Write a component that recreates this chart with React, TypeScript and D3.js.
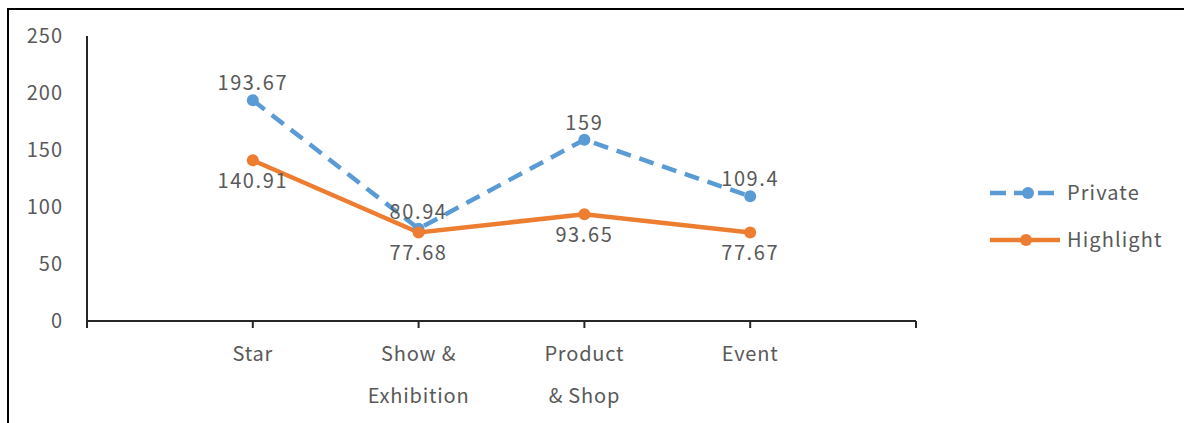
import React from "react";
import * as d3 from "d3";

const categories: string[][] = [["Star"], ["Show &", "Exhibition"], ["Product", "& Shop"], ["Event"]];
const privateValues = [193.67, 80.94, 159, 109.4];
const highlightValues = [140.91, 77.68, 93.65, 77.67];
const yTicks = [0, 50, 100, 150, 200, 250];
const seriesNames = ["Private", "Highlight"];

const BLUE = "#5B9BD5";
const ORANGE = "#ED7D31";
const TXT = "#595959";
const FONT = "'Noto Sans CJK KR', 'Noto Sans', sans-serif";

export default function App() {
  const W = 1184, H = 423;
  const x = d3.scaleLinear().domain([0, 5]).range([87, 916]);
  const y = d3.scaleLinear().domain([0, 250]).range([321, 36]);
  const line = d3.line<number>().x((_, i) => x(i + 1)).y((d) => y(d));

  return (
    <svg width={W} height={H} style={{ position: "absolute", left: 0, top: 0, fontFamily: FONT }}>
      <rect x={0} y={0} width={W} height={H} fill="#fff" />
      {/* border */}
      <line x1={7} x2={W} y1={9} y2={9} stroke="#000" strokeWidth={2} />
      <line x1={8} x2={8} y1={8} y2={H} stroke="#000" strokeWidth={2} />
      {/* y axis */}
      <line x1={x(0)} x2={x(0)} y1={y(250)} y2={y(0)} stroke="#262626" strokeWidth={2} />
      {yTicks.map((t) => (
        <text key={t} x={63} y={y(t)} dy="0.35em" textAnchor="end" fontSize={20} letterSpacing={1} fill={TXT}>
          {t}
        </text>
      ))}
      {/* x axis */}
      <line x1={x(0)} x2={x(5)} y1={y(0)} y2={y(0)} stroke="#262626" strokeWidth={2} />
      {d3.range(0, 6).map((i) => (
        <line key={i} x1={x(i)} x2={x(i)} y1={y(0)} y2={y(0) + 7} stroke="#262626" strokeWidth={2} />
      ))}
      {categories.map((lines, i) => (
        <text key={i} x={x(i + 1)} textAnchor="middle" fontSize={20} letterSpacing={0.8} fill={TXT}>
          {lines.map((l, j) => (
            <tspan key={j} x={x(i + 1)} y={354 + j * 42} dy="0.35em">
              {l}
            </tspan>
          ))}
        </text>
      ))}
      {/* series */}
      <path d={line(privateValues) || ""} fill="none" stroke={BLUE} strokeWidth={4.5} strokeDasharray="15 9" />
      <path d={line(highlightValues) || ""} fill="none" stroke={ORANGE} strokeWidth={4.5} />
      {privateValues.map((v, i) => (
        <circle key={"p" + i} cx={x(i + 1)} cy={y(v)} r={6} fill={BLUE} />
      ))}
      {highlightValues.map((v, i) => (
        <circle key={"h" + i} cx={x(i + 1)} cy={y(v)} r={6} fill={ORANGE} />
      ))}
      {privateValues.map((v, i) => (
        <text key={"pl" + i} x={x(i + 1)} y={y(v) - 17} dy="0.35em" textAnchor="middle" fontSize={20} letterSpacing={1.6} fill={TXT}>
          {v}
        </text>
      ))}
      {highlightValues.map((v, i) => (
        <text key={"hl" + i} x={x(i + 1)} y={y(v) + 21} dy="0.35em" textAnchor="middle" fontSize={20} letterSpacing={1.6} fill={TXT}>
          {v}
        </text>
      ))}
      {/* legend */}
      <g>
        <line x1={990} x2={1060} y1={193} y2={193} stroke={BLUE} strokeWidth={4.5} strokeDasharray="16 8" />
        <circle cx={1028} cy={193} r={6} fill={BLUE} />
        <text x={1067} y={193} dy="0.35em" fontSize={20} letterSpacing={1.1} fill={TXT}>{seriesNames[0]}</text>
        <line x1={990} x2={1060} y1={240} y2={240} stroke={ORANGE} strokeWidth={4.5} />
        <circle cx={1026} cy={240} r={6} fill={ORANGE} />
        <text x={1067} y={240} dy="0.35em" fontSize={20} letterSpacing={1.1} fill={TXT}>{seriesNames[1]}</text>
      </g>
    </svg>
  );
}
